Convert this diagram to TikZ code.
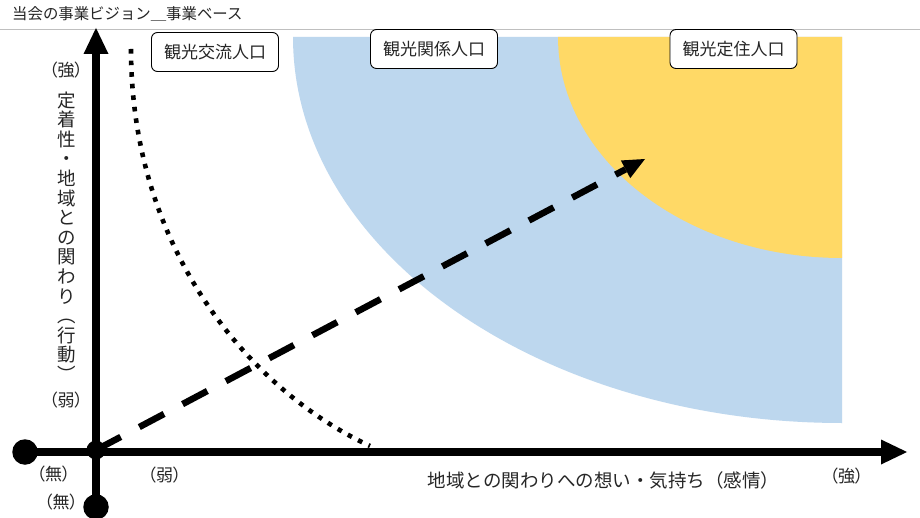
\documentclass[tikz,border=0pt]{standalone}
\usepackage{fontspec}
\newfontfamily\jp{Noto Sans CJK JP}
\newfontfamily\jpp[RawFeature=+palt]{Noto Sans CJK JP}
\usetikzlibrary{arrows.meta}
\definecolor{relblue}{HTML}{BDD7EE}
\definecolor{setyellow}{HTML}{FFD966}
\definecolor{rulegray}{HTML}{BFBFBF}
\definecolor{inkgray}{HTML}{262626}
\tikzset{
  every node/.style={font=\jp, inner sep=0pt, text=inkgray},
  axisline/.style={line width=7.3pt, draw=black,
    -{Triangle[length=26pt,width=25pt,line width=0pt]}},
  dotcircle/.style={circle, fill=black, draw=none},
  catbox/.style={draw=black, line width=0.9pt, rounded corners=6pt, fill=white,
    minimum width=127pt, minimum height=39pt,
    font=\jp\fontsize{17pt}{20pt}\selectfont},
  endlabel/.style={font=\jpp\fontsize{17pt}{19pt}\selectfont},
  dotcurve/.style={line width=4.6pt, dash pattern=on 4.6pt off 7pt, line cap=butt},
  dasharrow/.style={line width=6.5pt, dash pattern=on 28pt off 21pt,
    -{Triangle[length=22pt,width=20pt,line width=0pt]}},
}
\begin{document}
\begin{tikzpicture}[x=1pt,y=-1pt]
\useasboundingbox (0,0) rectangle (920,518);
\fill[white] (0,0) rectangle (920,518);
% title and rule
\node[anchor=west, font=\jp\fontsize{15.4pt}{18pt}\selectfont] (title) at (12,14) {当会の事業ビジョン＿事業ベース};
\coordinate (ruleL) at (0,29.5);
\coordinate (ruleR) at (920,29.5);
\draw[rulegray, line width=1.3pt] (ruleL) -- (ruleR);
% regions
\fill[relblue] (293,37) -- (842,37) -- (842,423)
  arc[start angle=90, end angle=180, x radius=549, y radius=386] -- cycle;
\fill[setyellow] (558,37) -- (842,37) -- (842,258)
  arc[start angle=90, end angle=180, x radius=284, y radius=221] -- cycle;
% dotted curve
\draw[dotcurve] (131,49) .. controls (131,250) and (250,390) .. (370,446);
% axes
\node[dotcircle, minimum size=25.5pt] (ybot) at (96,507) {};
\node[dotcircle, minimum size=25.5pt] (xleft) at (25,452) {};
\coordinate (ytop) at (96,28);
\coordinate (xright) at (907,452);
\draw[axisline] (ybot.center) -- (ytop);
\draw[axisline] (xleft.center) -- (xright);
\node[dotcircle, minimum size=19pt] (origin) at (96,450) {};
% dashed arrow
\coordinate (target) at (645,159);
\draw[dasharrow] (origin.center) -- (target);
% boxes
\node[catbox] (exchange) at (215,52) {観光交流人口};
\node[catbox] (relation) at (434,49) {観光関係人口};
\node[catbox] (settle) at (733.5,49) {観光定住人口};
% labels
\node[endlabel] (ystrong) at (66,70) {（強）};
\node[align=center, font=\jp\fontsize{18.5pt}{19.6pt}\selectfont] (ylabel) at (66.5,236.5)
  {定\\着\\性\\・\\地\\域\\と\\の\\関\\わ\\り\\︵\\行\\動\\︶};
\node[endlabel] (yweak) at (66,400) {（弱）};
\node[endlabel] (xnone) at (53.5,474.5) {（無）};
\node[endlabel] (ynone) at (61,502.5) {（無）};
\node[endlabel] (xweak) at (164.5,475.5) {（弱）};
\node[font=\jp\fontsize{18.5pt}{20pt}\selectfont] (xlabel) at (603.5,480) {地域との関わりへの想い・気持ち（感情）};
\node[endlabel] (xstrong) at (846.5,476) {（強）};
\end{tikzpicture}
\end{document}
